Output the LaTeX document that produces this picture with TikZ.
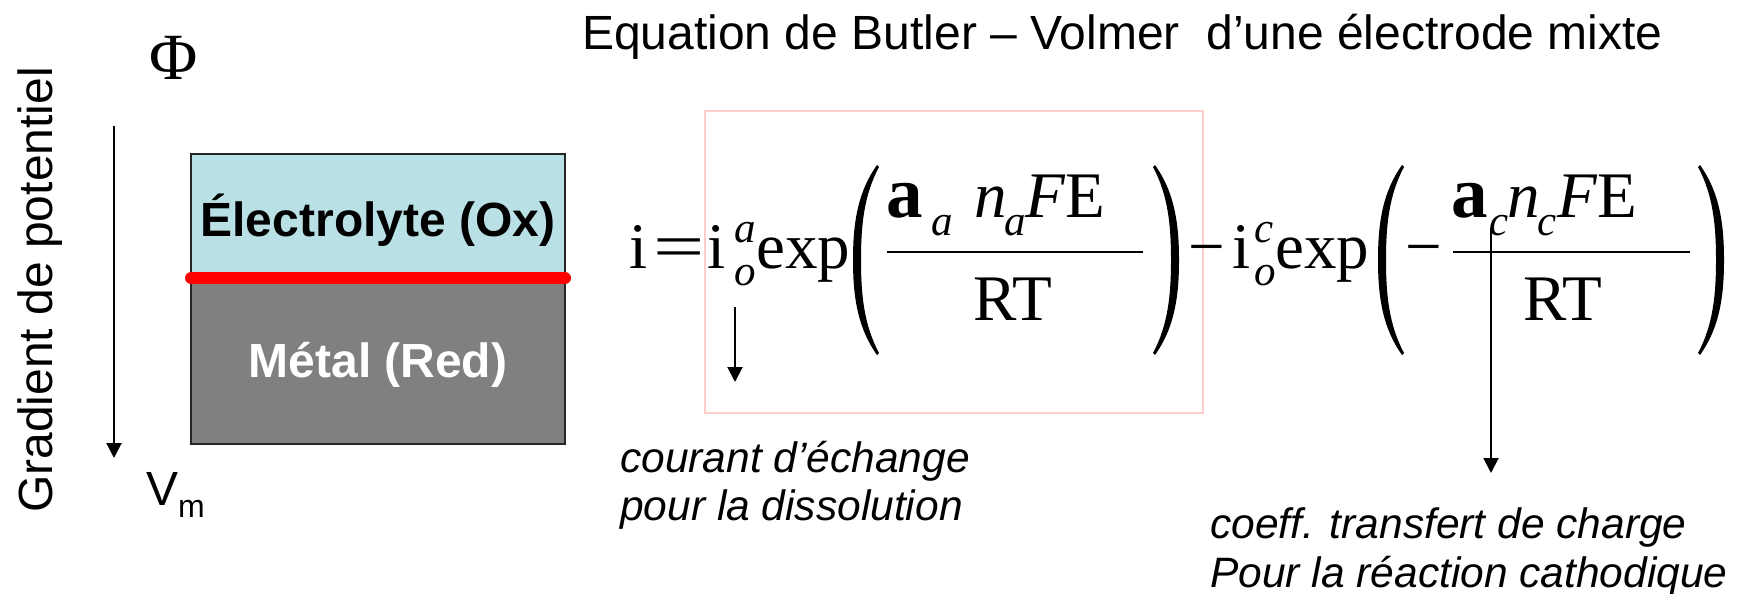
\documentclass[tikz,border=0pt]{standalone}
\usepackage{fontspec}
\setmainfont{Liberation Sans}
\newfontfamily\eqfont{Liberation Serif}
\usepackage{graphicx}
\usetikzlibrary{positioning, arrows.meta}

\definecolor{elecblue}{RGB}{185,224,228}
\definecolor{metalgray}{RGB}{128,128,128}
\definecolor{boxpink}{RGB}{255,204,204}

\begin{document}
\begin{tikzpicture}[x=1pt, y=-1pt,
      node distance=0pt,
      layer/.style={draw=black!85, line width=1.5pt, minimum width=374pt, outer sep=0pt, font=\fontsize{48}{48}\selectfont\bfseries},
      txt/.style={anchor=base west, inner sep=0pt, font=\fontsize{48}{48}\selectfont},
      lbl/.style={anchor=base west, inner sep=0pt, font=\fontsize{42.5}{42.5}\selectfont\itshape},
      eq/.style={anchor=base west, inner sep=0pt, font=\eqfont\fontsize{65}{65}\selectfont},
      idx/.style={anchor=base west, inner sep=0pt, font=\eqfont\itshape\fontsize{43}{43}\selectfont},
      alf/.style={anchor=base west, inner sep=0pt, font=\eqfont\bfseries\fontsize{73}{73}\selectfont},
      bar/.style={line width=2pt},
      arr/.style={-{Triangle[length=15pt, width=15pt]}, line width=2pt},
      paren/.pic={\fill (0,0) .. controls (-20,28) and (-24,60) .. (-24,95) .. controls (-24,130) and (-20,162) .. (0,190)
                  -- (2,188) .. controls (-13,160) and (-16,130) .. (-16,95) .. controls (-16,60) and (-13,30) .. (2,2) -- cycle;}]

    \useasboundingbox (0,0) rectangle (1746,594);

    \node[txt] (title) at (582,50) {Equation de Butler – Volmer~ d’une électrode mixte};

    \node[txt, rotate=90] (grad) at (52,513) {Gradient de potentiel};
    \node[eq, font=\eqfont\fontsize{66}{66}\selectfont] (phi) at (149,80) {Φ};
    \node[txt] (vm) at (146,505) {V\raisebox{-12pt}{\fontsize{32}{32}\selectfont m}};
    \coordinate (gtop) at (114,126);
    \coordinate (gbot) at (114,458);
    \draw[arr] (gtop) -- (gbot);

    \node[layer, fill=elecblue, minimum height=124pt, text depth=2pt] (elec) at (378,216) {Électrolyte (Ox)};
    \node[layer, fill=metalgray, text=white, minimum height=166pt, text depth=2pt, below=of elec] (metal) {Métal (Red)};
    \draw[red, line width=12pt, line cap=round] (elec.south west) -- (elec.south east);

    \draw[boxpink, line width=2pt] (705,111) rectangle (1203,413);

    % anodic term
    \node[eq] (i) at (629,268) {i};
    \node[eq] (equal) at (653,268) {\scalebox{1.4}[1]{=}};
    \node[eq] (ia) at (707,268) {i};
    \node[idx] (ia-sup) at (734,242) {a};
    \node[idx] (ia-sub) at (734,285) {o};
    \node[eq] (expa) at (756,268) {exp};
    \pic at (877,165) {paren};
    \node[alf] (alpha-a) at (886,217) {a};
    \node[idx] (alpha-a-sub) at (931,235) {a};
    \node[eq] (na) at (974,217) {\textit{n}};
    \node[idx] (na-sub) at (1004,235) {a};
    \node[eq] (fe-a) at (1025,217) {\textit{F}E};
    \draw[bar] (887,252) -- (1143,252);
    \node[eq] (rt-a) at (973,320) {RT};
    \pic[xscale=-1] at (1155,165) {paren};

    % cathodic term
    \node[eq] (minus) at (1188,268) {−};
    \node[eq] (ic) at (1232,268) {i};
    \node[idx] (ic-sup) at (1254,242) {c};
    \node[idx] (ic-sub) at (1254,285) {o};
    \node[eq] (expc) at (1275,268) {exp};
    \pic at (1402,165) {paren};
    \node[eq] (neg) at (1405,268) {−};
    \node[alf] (alpha-c) at (1451,217) {a};
    \node[idx] (alpha-c-sub) at (1489,235) {c};
    \node[eq] (nc) at (1507,217) {\textit{n}};
    \node[idx] (nc-sub) at (1537,235) {c};
    \node[eq] (fe-c) at (1557,217) {\textit{F}E};
    \draw[bar] (1453,252) -- (1690,252);
    \node[eq] (rt-c) at (1523,320) {RT};
    \pic[xscale=-1] at (1700,165) {paren};

    \coordinate (ia-start) at (735,307);
    \coordinate (ia-end) at (735,382);
    \draw[arr] (ia-start) -- (ia-end);
    \coordinate (ac-start) at (1491,228);
    \coordinate (ac-end) at (1491,473);
    \draw[arr] (ac-start) -- (ac-end);

    \node[lbl] (echange) at (620,472) {courant d’échange};
    \node[lbl] (dissol) at (620,520) {pour la dissolution};
    \node[lbl] (coeff) at (1210,538) {coeff. transfert de charge};
    \node[lbl] (cathod) at (1210,587) {Pour la réaction cathodique};
  \end{tikzpicture}
\end{document}
